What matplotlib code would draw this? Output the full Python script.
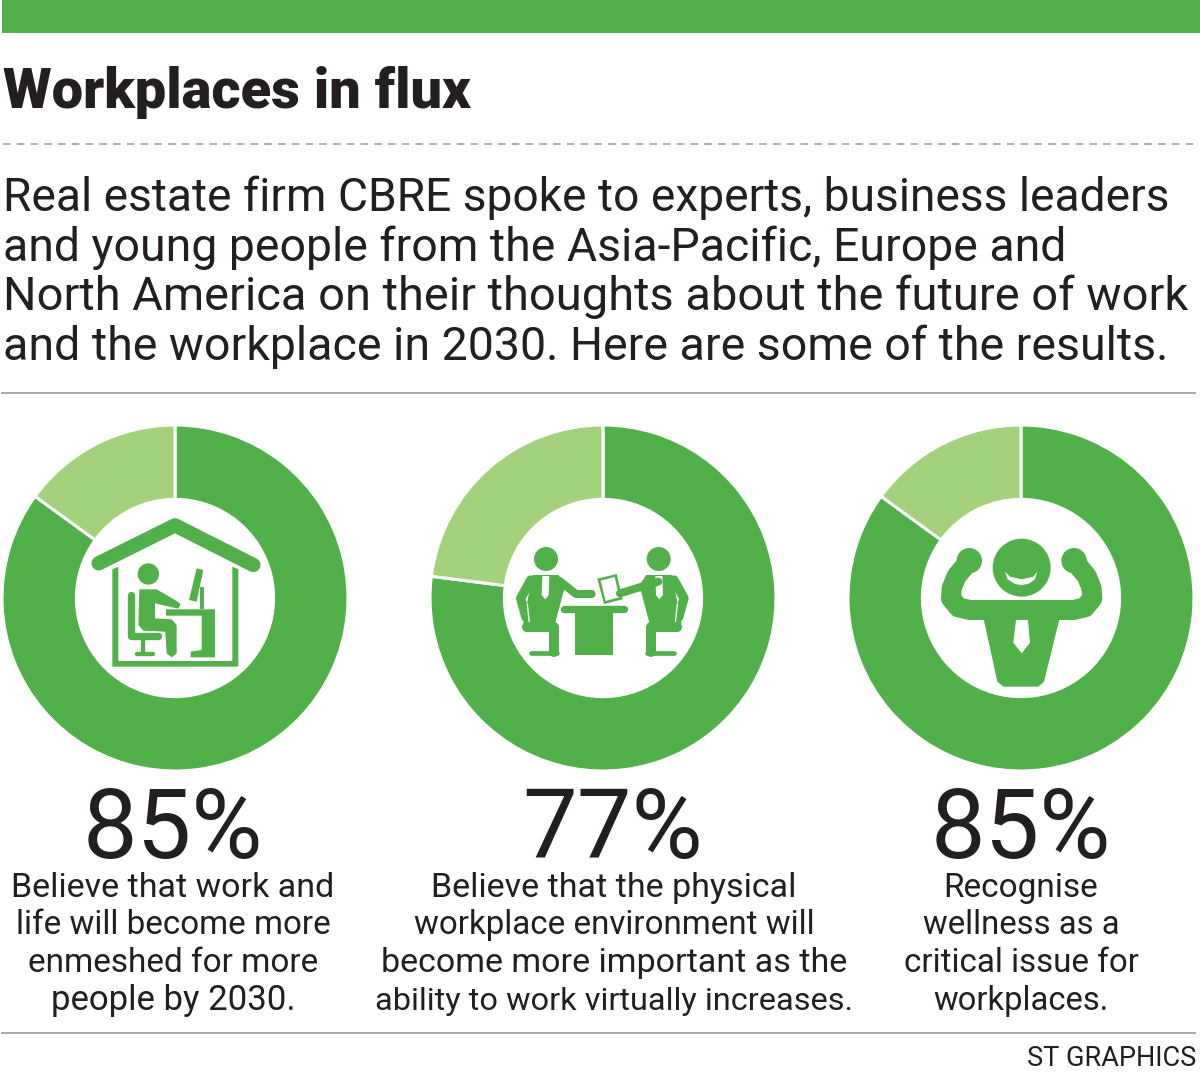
import matplotlib
matplotlib.use("Agg")
import matplotlib.pyplot as plt
from matplotlib.patches import Circle, Polygon, Rectangle

W, H = 1200, 1073
GREEN = "#52b04a"
LIGHT = "#a3d17c"
INK = "#231f20"
FONT = "Roboto"

title = "Workplaces in flux"
intro = ["Real estate firm CBRE spoke to experts, business leaders",
         "and young people from the Asia-Pacific, Europe and",
         "North America on their thoughts about the future of work",
         "and the workplace in 2030. Here are some of the results."]
shares = [85, 77, 85]
captions = [["Believe that work and", "life will become more", "enmeshed for more", "people by 2030."],
            ["Believe that the physical", "workplace environment will", "become more important as the", "ability to work virtually increases."],
            ["Recognise", "wellness as a", "critical issue for", "workplaces."]]
source = "ST GRAPHICS"

intro_sizes = [33.25, 33.4, 33.8, 33.45]
caption_sizes = [[24.5, 23.9, 24.0, 25.0], [24.5, 23.9, 24.5, 23.4], [24.0, 23.7, 23.9, 23.6]]
centers = [175, 603, 1021]
big_x = [173, 613, 1021]
cap_x = [173, 614, 1021]
CY, R = 598, 173

fig = plt.figure(figsize=(W/100, H/100), dpi=100, facecolor="white")
bg = fig.add_axes([0, 0, 1, 1])
bg.set_xlim(0, W); bg.set_ylim(H, 0); bg.axis("off")

bg.add_patch(Rectangle((2, 0), W-2, 33, fc=GREEN, ec="none"))
bg.plot([3, 1196], [144, 144], color="#9a9a9a", lw=1.1, dashes=(5, 4))
bg.plot([2, 1195], [393, 393], color="#a8a8a8", lw=1.4)
bg.plot([2, 1195], [1033, 1033], color="#a8a8a8", lw=1.4)

bg.text(3, 108, title, fontsize=40.3, fontweight="black", family=FONT, color=INK, va="baseline")
for line, y, s in zip(intro, [211, 261, 310, 360], intro_sizes):
    bg.text(3, y, line, fontsize=s, fontweight="normal", family=FONT, color=INK, va="baseline")
for v, bx, cx, lines, sizes in zip(shares, big_x, cap_x, captions, caption_sizes):
    bg.text(bx, 858, f"{v}%", fontsize=70, fontweight="normal", family=FONT, color=INK, ha="center", va="baseline")
    for line, y, s in zip(lines, [897, 934, 972, 1010], sizes):
        bg.text(cx, y, line, fontsize=s, fontweight="normal", family=FONT, color=INK, ha="center", va="baseline")
bg.text(1196, 1066, source, fontsize=19.5, fontweight="normal", family=FONT, color=INK, ha="right", va="baseline")

for v, cx in zip(shares, centers):
    ax = fig.add_axes([(cx-R)/W, 1-(CY+R)/H, 2*R/W, 2*R/H])
    ax.pie([v, 100-v], colors=[GREEN, LIGHT], startangle=90, counterclock=False, radius=1,
           wedgeprops=dict(width=0.43, edgecolor="white", linewidth=2.2))
    ax.set_xlim(-1, 1); ax.set_ylim(-1, 1); ax.set_aspect("equal")

# overlay for icons
ic = fig.add_axes([0, 0, 1, 1], zorder=5)
ic.set_xlim(0, W); ic.set_ylim(H, 0); ic.axis("off"); ic.patch.set_alpha(0)

def mapper(ox, oy):
    return lambda pts: [(ox+x/3, oy+y/3) for x, y in pts]

def poly(m, pts, fc=GREEN):
    ic.add_patch(Polygon(m(pts), closed=True, fc=fc, ec="none"))

def stroke(m, pts, w, color=GREEN, cap="round"):
    p = m(pts)
    ic.plot([a for a, _ in p], [b for _, b in p], color=color, lw=w/3*0.72,
            solid_capstyle=cap, solid_joinstyle="round")

def circ(m, x, y, r, fc=GREEN):
    (a, b), = m([(x, y)])
    ic.add_patch(Circle((a, b), r/3, fc=fc, ec="none"))

# ---- icon 1: home office
m = mapper(60, 500)
stroke(m, [(116, 190), (345, 76), (580, 195)], 43)
poly(m, [(157, 208), (175, 200), (175, 483), (517, 483), (517, 200), (535, 208), (535, 500), (157, 500)])
circ(m, 265, 222, 32)
stroke(m, [(213, 285), (213, 408), (295, 408)], 22)
poly(m, [(238, 268), (290, 268), (345, 300), (362, 312), (355, 326), (285, 310), (285, 355), (335, 358), (350, 375),
         (350, 460), (335, 472), (320, 460), (316, 395), (250, 392), (235, 375)])
stroke(m, [(250, 415), (250, 458)], 13)
stroke(m, [(230, 462), (278, 462)], 13)
poly(m, [(318, 328), (465, 328), (465, 472), (392, 472), (392, 455), (425, 450), (425, 347), (318, 347)])
poly(m, [(410, 205), (430, 210), (410, 305), (387, 300)])
poly(m, [(420, 260), (432, 260), (432, 328), (420, 328)])

# ---- icon 2: two people at a desk
m = mapper(490, 530)
for flip in (False, True):
    f = (lambda pts: [(674-x, y) for x, y in pts]) if flip else (lambda pts: pts)
    mm = (lambda f_: (lambda pts: m(f_(pts))))(f)
    circ(mm, 168, 87, 36) if not flip else circ(m, 506, 87, 36)
    stroke(mm, [(122, 150), (92, 205), (108, 262)], 28)
    poly(mm, [(128, 135), (205, 135), (226, 165), (198, 270), (190, 305), (108, 305), (100, 280), (112, 215)])
    stroke(mm, [(112, 222), (118, 278)], 4, color="white")
    stroke(mm, [(112, 290), (192, 290), (192, 365)], 30)
    stroke(mm, [(122, 368), (202, 368)], 14)
    poly(mm, [(157, 138), (178, 138), (176, 195), (166, 208), (155, 195)], fc="white")
stroke(m, [(208, 152), (258, 192), (305, 192)], 24)
stroke(m, [(505, 155), (390, 190)], 24)
poly(m, [(322, 146), (380, 132), (398, 208), (342, 222)])
poly(m, [(332, 152), (374, 141), (388, 202), (347, 213)], fc="white")
stroke(m, [(222, 238), (402, 238)], 22)
poly(m, [(255, 245), (368, 245), (368, 375), (255, 375)])

# ---- icon 3: strong smiling man
m = mapper(920, 520)
circ(m, 305, 143, 87)
poly(m, [(255, 155), (270, 170), (305, 178), (340, 170), (352, 155), (345, 178), (325, 192), (305, 195), (285, 192), (263, 178)], fc="white")
for f in (lambda pts: pts, lambda pts: [(610-x, y) for x, y in pts]):
    mm = (lambda f_: (lambda pts: m(f_(pts))))(f)
    stroke(mm, [(135, 138), (110, 168), (95, 205), (93, 235), (115, 262), (150, 270), (300, 270)], 60)
circ(m, 148, 122, 38); circ(m, 462, 122, 38)
poly(m, [(185, 270), (425, 270), (372, 485), (355, 500), (250, 500), (232, 485)])
poly(m, [(295, 240), (318, 240), (330, 368), (305, 400), (280, 368)], fc="white")

fig.savefig("out.png", dpi=100, facecolor="white")
